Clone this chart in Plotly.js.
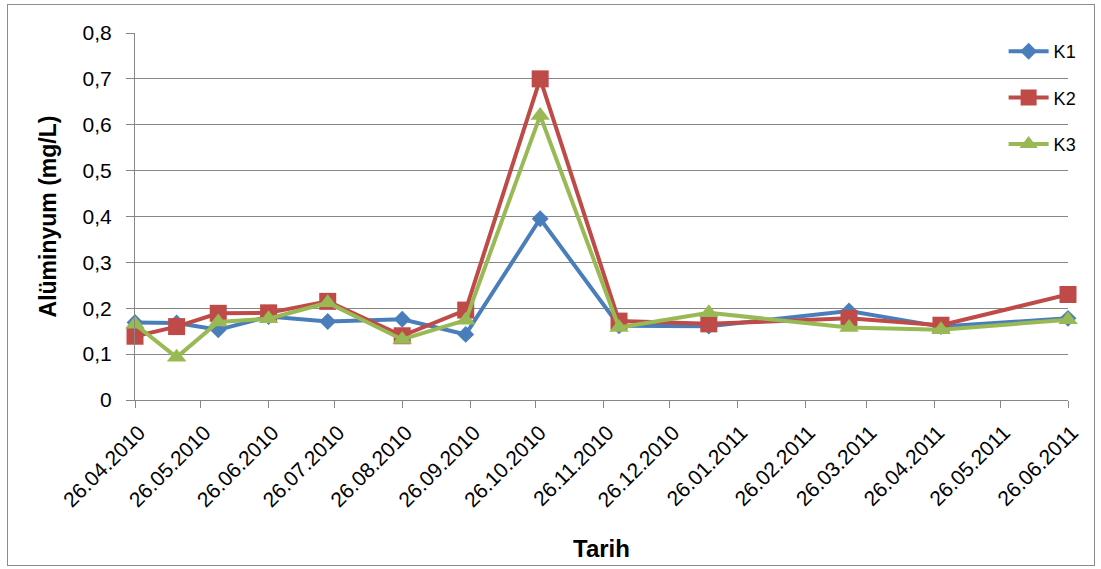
<!DOCTYPE html>
<html>
<head>
<meta charset="utf-8">
<script src="https://cdn.plot.ly/plotly-3.0.1.min.js"></script>
<style>
html,body{margin:0;padding:0;background:#fff;}
#wrap{position:relative;width:1101px;height:569px;}
#chart{width:1101px;height:569px;}
#frame{position:absolute;left:7px;top:4px;width:1086px;height:560px;border:1px solid #8c8c8c;pointer-events:none;}
</style>
</head>
<body>
<div id="wrap"><div id="chart"></div><div id="frame"></div></div>
<script>
const dates = ['2010-04-26','2010-05-15','2010-06-03','2010-06-26','2010-07-23','2010-08-26','2010-09-24','2010-10-28','2010-12-03','2011-01-13','2011-03-18','2011-04-29','2011-06-26'];
const k1 = [0.169,0.168,0.153,0.182,0.171,0.176,0.143,0.395,0.162,0.161,0.194,0.160,0.178];
const k2 = [0.139,0.160,0.189,0.190,0.215,0.140,0.196,0.700,0.172,0.166,0.178,0.163,0.230];
const k3 = [0.165,0.093,0.170,0.177,0.212,0.132,0.174,0.620,0.158,0.190,0.158,0.153,0.175];
const seriesNames = ['K1','K2','K3'];
const xTickVals = ['2010-04-26','2010-05-26','2010-06-26','2010-07-26','2010-08-26','2010-09-26','2010-10-26','2010-11-26','2010-12-26','2011-01-26','2011-02-26','2011-03-26','2011-04-26','2011-05-26','2011-06-26'];
const xTickText = ['26.04.2010','26.05.2010','26.06.2010','26.07.2010','26.08.2010','26.09.2010','26.10.2010','26.11.2010','26.12.2010','26.01.2011','26.02.2011','26.03.2011','26.04.2011','26.05.2011','26.06.2011'];
const yTickVals = [0,0.1,0.2,0.3,0.4,0.5,0.6,0.7,0.8];
const yTickText = ['0','0,1','0,2','0,3','0,4','0,5','0,6','0,7','0,8'];

const colors = ['#4A7EBB','#BE4B48','#98B954'];
const symbols = ['diamond','square','triangle-up'];
const sizes = [13,17,17];
const vals = [k1,k2,k3];
const traces = vals.map((v,i)=>({
  x: dates, y: v, name: seriesNames[i], type:'scatter', mode:'lines+markers',
  legendgroup: 'g'+i, cliponaxis:false,
  line:{color:colors[i], width:4},
  marker:{symbol:symbols[i], size:sizes[i], color:colors[i]}
}));
const font = 'Liberation Sans, Arial, sans-serif';
const layout = {
  width:1101, height:569,
  margin:{l:135, r:33, t:33, b:169},
  paper_bgcolor:'#fff', plot_bgcolor:'#fff',
  font:{family:font, color:'#000', size:15},
  showlegend:true,
  legend:{x:0.931, xanchor:'left', y:1.0, yanchor:'top', font:{size:18, color:'#000'}, tracegroupgap:20, bgcolor:'rgba(255,255,255,0)', itemwidth:40},
  xaxis:{
    type:'date', range:['2010-04-26','2011-06-26'],
    tickmode:'array', tickvals:xTickVals, ticktext:xTickText, tickangle:-45,
    ticks:'outside', ticklen:7, tickcolor:'#868686', showline:true, linecolor:'#868686', linewidth:1,
    ticklabelstandoff:4, ticklabelshift:4,
    showgrid:false, zeroline:false, tickfont:{size:21},
    title:{text:'<b>Tarih</b>', font:{size:24}, standoff:29}
  },
  yaxis:{
    range:[0,0.8], tickvals:yTickVals, ticktext:yTickText,
    ticks:'outside', ticklen:8, tickcolor:'#868686', showline:true, linecolor:'#868686',
    ticklabelstandoff:10,
    showgrid:true, gridcolor:'#868686', gridwidth:1, zeroline:false, tickfont:{size:21},
    title:{text:'<b>Alüminyum (mg/L)</b>', font:{size:23}, standoff:19}
  }
};
Plotly.newPlot('chart', traces, layout, {displayModeBar:false, staticPlot:true});
</script>
</body>
</html>
